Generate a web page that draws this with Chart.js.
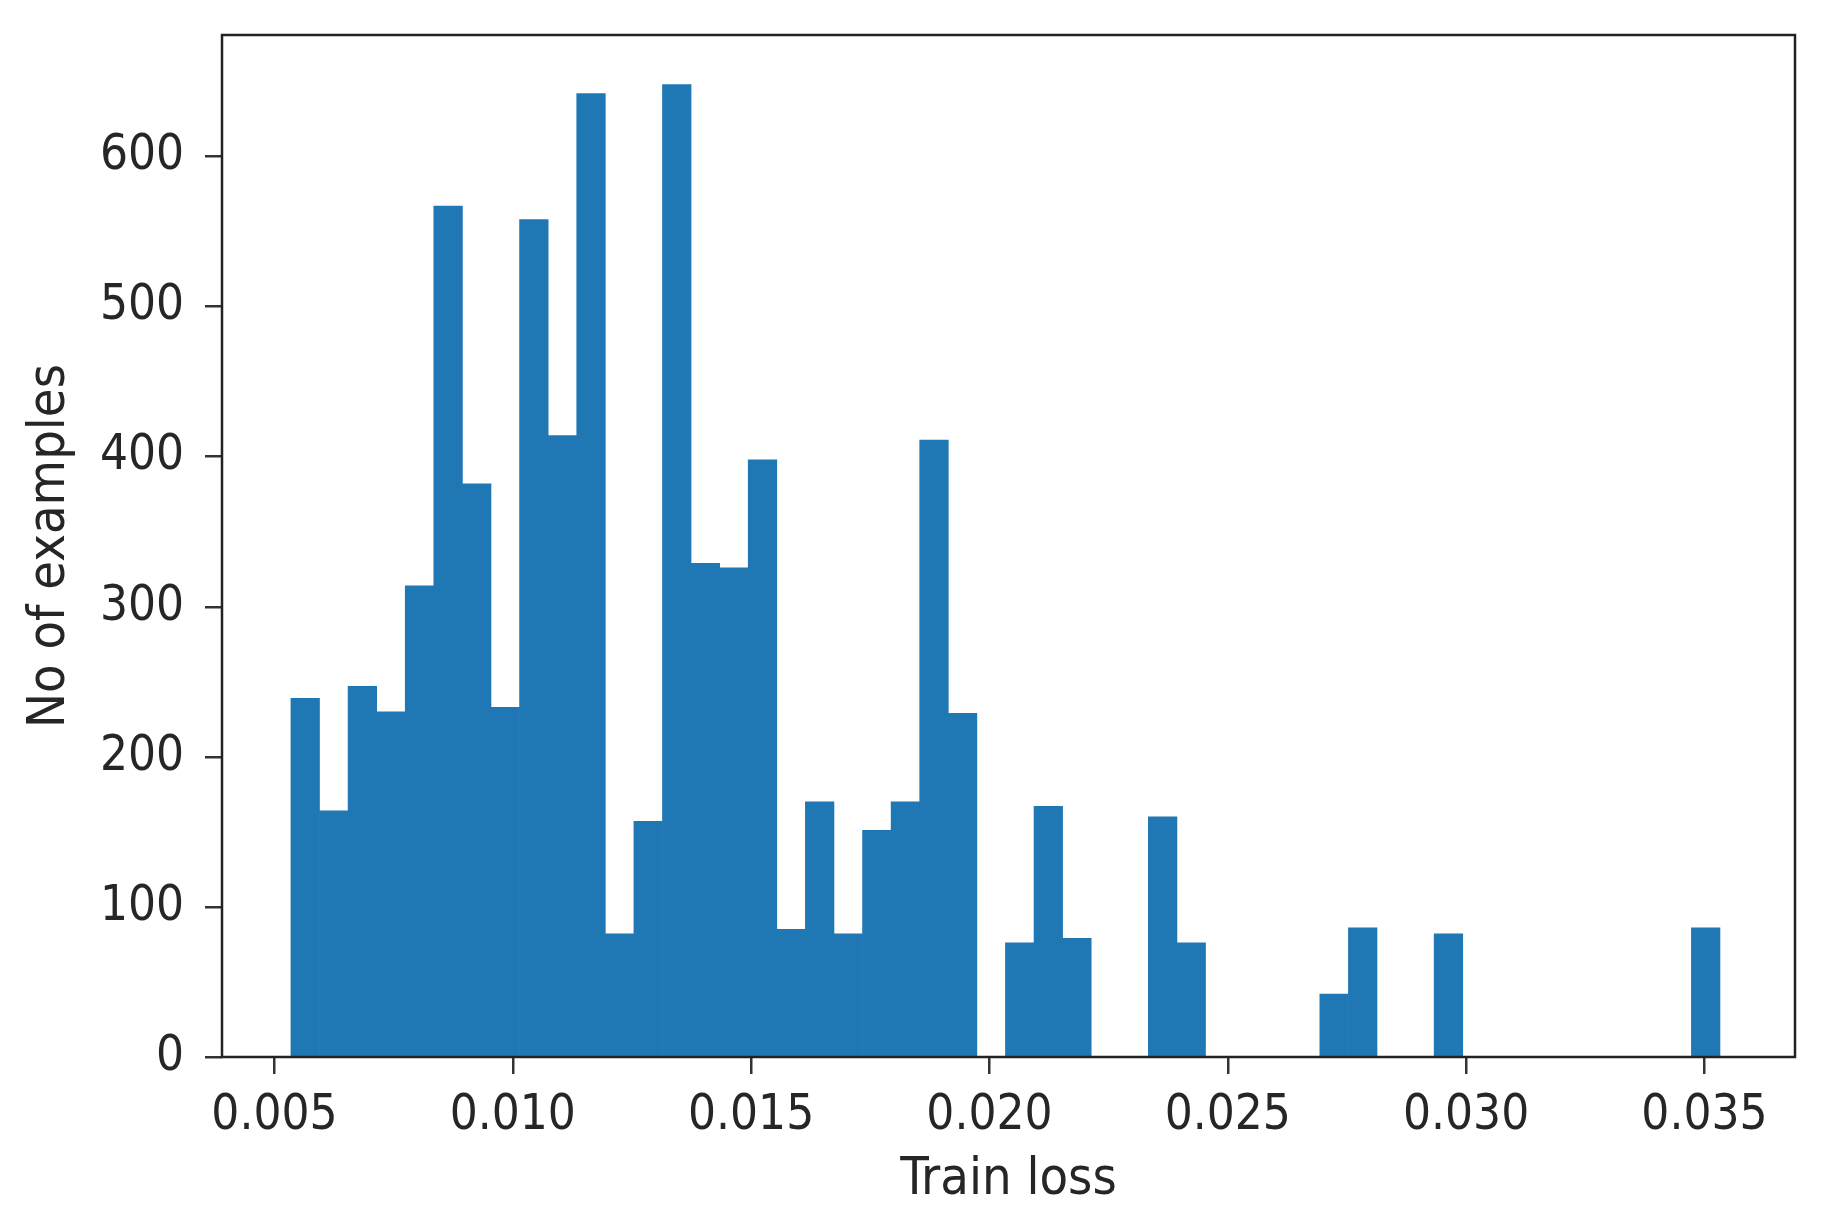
<!DOCTYPE html>
<html lang="en">
<head>
    <meta charset="UTF-8">
    <title>Train loss histogram</title>
    <style>
        html, body {
            margin: 0;
            padding: 0;
            background: #ffffff;
        }
        #chart {
            display: block;
        }
    </style>
</head>
<body>
    <canvas id="chart" width="1829" height="1228"></canvas>

    <script src="https://cdn.jsdelivr.net/npm/chart.js"></script>
    <script>
        // histogram: 50 equal bins starting at binStart
        const binStart = 0.005346;
        const binWidth = 0.0005996;
        const counts = [
            239, 164, 247, 230, 314, 567, 382, 233, 558, 414,
            642, 82, 157, 648, 329, 326, 398, 85, 170, 82,
            151, 170, 411, 229, 0, 76, 167, 79, 0, 0,
            160, 76, 0, 0, 0, 0, 42, 86, 0, 0,
            82, 0, 0, 0, 0, 0, 0, 0, 0, 86
        ];
        const xTicks = [0.005, 0.010, 0.015, 0.020, 0.025, 0.030, 0.035];
        const yTicks = [0, 100, 200, 300, 400, 500, 600];
        const xLabel = 'Train loss';
        const yLabel = 'No of examples';

        const points = counts.map((c, i) => ({ x: binStart + (i + 0.5) * binWidth, y: c }));

        const textColor = '#262626';
        const family = "'DejaVu Sans Condensed', 'DejaVu Sans', sans-serif";
        const tickFont = { family: family, size: 49 };
        const titleFont = { family: family, size: 52 };

        // matplotlib style box drawn on top of the bars
        const frame = {
            id: 'frame',
            afterDatasetsDraw(chart) {
                const { ctx, chartArea: a } = chart;
                ctx.save();
                ctx.strokeStyle = '#222';
                ctx.lineWidth = 2.5;
                ctx.strokeRect(a.left, a.top, a.right - a.left, a.bottom - a.top);
                ctx.restore();
            }
        };

        new Chart(document.getElementById('chart'), {
            type: 'bar',
            data: {
                datasets: [{
                    data: points,
                    backgroundColor: '#1f77b4',
                    borderWidth: 0,
                    barPercentage: 1,
                    categoryPercentage: 1
                }]
            },
            options: {
                responsive: false,
                devicePixelRatio: 1,
                animation: false,
                layout: { padding: { top: 35, right: 34, left: 0, bottom: 0 } },
                plugins: {
                    legend: { display: false },
                    tooltip: { enabled: false }
                },
                scales: {
                    x: {
                        type: 'linear',
                        min: 0.0039,
                        max: 0.0369,
                        offset: false,
                        afterBuildTicks: axis => { axis.ticks = xTicks.map(v => ({ value: v })); },
                        afterFit: axis => {
                            axis.height = 171;
                            axis.paddingLeft = 0;
                            axis.paddingRight = 0;
                        },
                        grid: {
                            display: true,
                            offset: false,
                            drawOnChartArea: false,
                            drawTicks: true,
                            tickLength: 17,
                            color: '#333',
                            lineWidth: 2.5
                        },
                        border: { display: false },
                        ticks: {
                            color: textColor,
                            font: tickFont,
                            padding: 13,
                            maxRotation: 0,
                            autoSkip: false,
                            callback: v => v.toFixed(3)
                        },
                        title: {
                            display: true,
                            text: xLabel,
                            color: textColor,
                            font: titleFont,
                            padding: { top: 0, bottom: 16 }
                        }
                    },
                    y: {
                        min: 0,
                        max: 681,
                        afterBuildTicks: axis => { axis.ticks = yTicks.map(v => ({ value: v })); },
                        afterFit: axis => {
                            axis.width = 222;
                            axis.paddingTop = 0;
                            axis.paddingBottom = 0;
                        },
                        grid: {
                            display: true,
                            drawOnChartArea: false,
                            drawTicks: true,
                            tickLength: 17,
                            color: '#333',
                            lineWidth: 2.5
                        },
                        border: { display: false },
                        ticks: {
                            color: textColor,
                            font: tickFont,
                            padding: 21,
                            autoSkip: false
                        },
                        title: {
                            display: true,
                            text: yLabel,
                            color: textColor,
                            font: titleFont,
                            padding: { top: 19, bottom: 0 }
                        }
                    }
                }
            },
            plugins: [frame]
        });
    </script>
</body>
</html>
